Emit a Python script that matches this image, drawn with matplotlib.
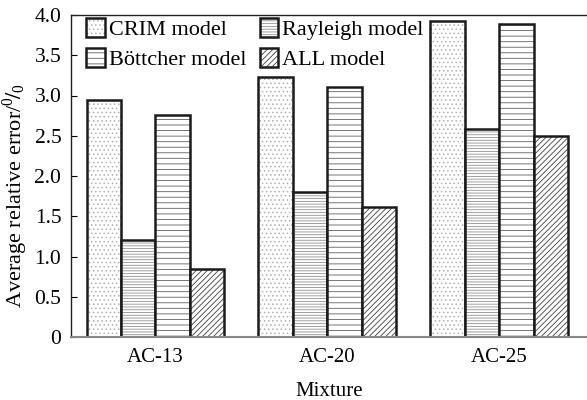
import numpy as np
import matplotlib.pyplot as plt
from matplotlib.patches import Patch

plt.rcParams['font.family'] = ['Liberation Serif', 'DejaVu Serif']
plt.rcParams['mathtext.fontset'] = 'stix'
plt.rcParams['hatch.linewidth'] = 0.6

# 数据
mixtures = ['AC-13', 'AC-20', 'AC-25']
models = ['CRIM model', 'Rayleigh model', 'Böttcher model', 'ALL model']
crim = [2.94, 3.23, 3.93]
rayleigh = [1.20, 1.80, 2.58]
boettcher = [2.76, 3.10, 3.89]
all_model = [0.84, 1.62, 2.50]

values = [crim, rayleigh, boettcher, all_model]
hatches = ['....', '------', '---', '//////']
hatch_colors = ['#b0b0b0', '#909090', '#606060', '#404040']

fig = plt.figure(figsize=(5.87, 4.0), dpi=100)
ax = fig.add_axes([0.121, 0.1575, 0.879, 0.805])

x = np.arange(len(mixtures))
width = 0.2
handles = []
for k, vals in enumerate(values):
    pos = x + (k - 1.5) * width
    ax.bar(pos, vals, width, color='white', edgecolor=hatch_colors[k],
           hatch=hatches[k], linewidth=0)
    ax.bar(pos, vals, width, fill=False, edgecolor='#1a1a1a', linewidth=1.8)
    h1 = Patch(facecolor='white', edgecolor=hatch_colors[k], hatch=hatches[k], linewidth=0)
    h2 = Patch(fill=False, edgecolor='#1a1a1a', linewidth=1.8)
    handles.append((h1, h2))

ax.set_xlim(-0.49, 2.51)
ax.set_ylim(0, 4.0)
ax.set_yticks(np.arange(0, 4.01, 0.5))
ax.set_yticklabels(['0'] + ['%.1f' % v for v in np.arange(0.5, 4.01, 0.5)])
ax.set_xticks(x)
ax.set_xticklabels(mixtures)
ax.tick_params(axis='y', direction='in', length=4, labelsize=15.5, pad=7)
ax.tick_params(axis='x', length=0, labelsize=15, pad=8)

ax.spines['right'].set_visible(False)
for s in ['left', 'top']:
    ax.spines[s].set_linewidth(1.0)
    ax.spines[s].set_color('#222222')
ax.spines['bottom'].set_color('#888888')
ax.spines['bottom'].set_linewidth(1.5)

ax.set_xlabel('Mixture', fontsize=15, labelpad=11)
ax.set_ylabel('Average relative error/$^{\\mathregular{0}}\\!/_{\\mathregular{0}}$',
              fontsize=16)
ax.yaxis.set_label_coords(-0.079, 0.44)

# 图例按行排列: CRIM, Rayleigh / Böttcher, ALL
order = [0, 2, 1, 3]
ax.legend([handles[i] for i in order], [models[i] for i in order], ncol=2,
          loc='upper left', bbox_to_anchor=(0.017, 1.01),
          frameon=False, fontsize=16, handlelength=0.85, handleheight=0.9,
          handletextpad=0.15, columnspacing=0.6, labelspacing=0.35,
          borderaxespad=0.0, borderpad=0.3)

plt.savefig('out.png', dpi=100)
